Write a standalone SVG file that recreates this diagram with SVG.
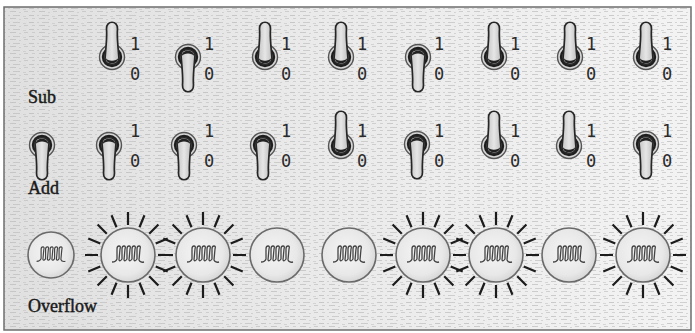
<svg xmlns="http://www.w3.org/2000/svg" xmlns:xlink="http://www.w3.org/1999/xlink" width="695" height="333" viewBox="0 0 695 333">
  <style>
    .bit { font-family: "DejaVu Sans Mono", "Liberation Mono", monospace; font-size: 17px; fill: #2a2a2a; }
    .row { font-family: "Liberation Serif", "DejaVu Serif", serif; font-size: 18px; fill: #1a1a1a; stroke: #1a1a1a; stroke-width: 0.45; }
    .glass { fill: url(#glassFill); stroke: #6a6a6a; stroke-width: 1.6; }
    .filament { fill: none; stroke: #444; stroke-width: 1.3; stroke-linejoin: round; }
    .ray { fill: none; stroke: #1c1c1c; stroke-width: 2.2; }
  </style>
  <defs>
    <linearGradient id="paper" x1="0" y1="0" x2="1" y2="0">
      <stop offset="0" stop-color="#e0e0e0"/>
      <stop offset="0.45" stop-color="#eaeaea"/>
      <stop offset="1" stop-color="#f3f3f3"/>
    </linearGradient>
    <pattern id="grain" width="29" height="7" patternUnits="userSpaceOnUse">
      <rect x="0" y="1" width="5" height="1" fill="#b0b0b0"/>
      <rect x="8" y="1" width="2" height="1" fill="#c0c0c0"/>
      <rect x="13" y="1" width="7" height="1" fill="#b8b8b8"/>
      <rect x="23" y="2" width="3" height="1" fill="#c4c4c4"/>
      <rect x="3" y="4" width="3" height="1" fill="#bebebe"/>
      <rect x="10" y="4" width="6" height="1" fill="#b4b4b4"/>
      <rect x="19" y="5" width="2" height="1" fill="#c2c2c2"/>
      <rect x="24" y="4" width="4" height="1" fill="#bababa"/>
    </pattern>
    <radialGradient id="glassFill" cx="0.45" cy="0.45" r="0.6">
      <stop offset="0" stop-color="#f5f5f5"/>
      <stop offset="0.7" stop-color="#e8e8e8"/>
      <stop offset="1" stop-color="#d2d2d2"/>
    </radialGradient>
    <linearGradient id="leverFill" x1="0" y1="0" x2="1" y2="0">
      <stop offset="0" stop-color="#c4c4c4"/>
      <stop offset="0.5" stop-color="#e6e6e6"/>
      <stop offset="1" stop-color="#bfbfbf"/>
    </linearGradient>

    <!-- toggle switch, lever pointing up; flipped vertically for the 0 position -->
    <g id="toggle">
      <circle r="12.5" fill="#d6d6d6" stroke="#555" stroke-width="1.4"/>
      <circle r="9" fill="#7a7a7a" stroke="#1e1e1e" stroke-width="2.4"/>
      <path d="M-7 2C-7 9 7 9 7 2L6-10C5.5-17 5-22 5.5-28C6-37-6-37-5.5-28C-5-22-5.5-17-6-10Z" fill="url(#leverFill)" stroke="#262626" stroke-width="1.7"/>
      <path d="M-6.2 1C-6.2 8 6.2 8 6.2 1C4.5 4.5-4.5 4.5-6.2 1Z" fill="#222"/>
    </g>
    <g id="toggleDown">
      <use xlink:href="#toggle" transform="scale(1,-1)"/>
    </g>

    <!-- coiled filament inside a bulb -->
    <path id="coil" class="filament" d="M-16 7Q-12 7-11 4L-11-6Q-11-9-9-9Q-7-9-8-6L-9 5Q-8 7-6 4L-6-6Q-6-9-4-9Q-2-9-3-6L-4 5Q-3 7-1 4L-1-6Q-1-9 1-9Q3-9 2-6L1 5Q2 7 4 4L4-6Q4-9 6-9Q8-9 7-6L6 5Q7 7 9 4L9-6Q9-9 11-9Q13-9 12-6L11 5Q12 8 16 7"/>

    <!-- glow rays around a lit bulb -->
    <path id="rays" class="ray" d="M30 0H43M-30 0H-43M0 30V43M0-30V-43M27.72 11.48L39.73 16.46M27.72-11.48L39.73-16.46M-27.72 11.48L-39.73 16.46M-27.72-11.48L-39.73-16.46M21.21 21.21L30.41 30.41M21.21-21.21L30.41-30.41M-21.21 21.21L-30.41 30.41M-21.21-21.21L-30.41-30.41M11.48 27.72L16.46 39.73M11.48-27.72L16.46-39.73M-11.48 27.72L-16.46 39.73M-11.48-27.72L-16.46-39.73"/>
  </defs>

  <!-- sheet -->
  <rect x="0" y="0" width="695" height="333" fill="#fff"/>
  <rect x="4" y="7" width="687" height="323" fill="url(#paper)"/>
  <rect x="4" y="7" width="687" height="323" fill="url(#grain)" opacity="0.6"/>
  <rect x="4" y="7" width="687" height="323" fill="none" stroke="#6e6e6e" stroke-width="1.5"/>

  <!-- row captions -->
  <text class="row" x="28" y="103">Sub</text>
  <text class="row" x="28" y="194">Add</text>
  <text class="row" x="28" y="312">Overflow</text>

  <!-- Sub register -->
  <g id="sub-1"><use xlink:href="#toggle" x="112" y="57"/><text class="bit" x="130" y="50">1</text><text class="bit" x="130" y="80">0</text></g>
  <g id="sub-2"><use xlink:href="#toggleDown" transform="translate(188,57)"/><text class="bit" x="204" y="50">1</text><text class="bit" x="204" y="80">0</text></g>
  <g id="sub-3"><use xlink:href="#toggle" x="265" y="57"/><text class="bit" x="281" y="50">1</text><text class="bit" x="281" y="80">0</text></g>
  <g id="sub-4"><use xlink:href="#toggle" x="341" y="57"/><text class="bit" x="357" y="50">1</text><text class="bit" x="357" y="80">0</text></g>
  <g id="sub-5"><use xlink:href="#toggleDown" transform="translate(418,57)"/><text class="bit" x="434" y="50">1</text><text class="bit" x="434" y="80">0</text></g>
  <g id="sub-6"><use xlink:href="#toggle" x="494" y="57"/><text class="bit" x="510" y="50">1</text><text class="bit" x="510" y="80">0</text></g>
  <g id="sub-7"><use xlink:href="#toggle" x="570" y="57"/><text class="bit" x="586" y="50">1</text><text class="bit" x="586" y="80">0</text></g>
  <g id="sub-8"><use xlink:href="#toggle" x="646" y="57"/><text class="bit" x="662" y="50">1</text><text class="bit" x="662" y="80">0</text></g>

  <!-- Add register -->
  <g id="add-carry"><use xlink:href="#toggleDown" transform="translate(42,145)"/></g>
  <g id="add-1"><use xlink:href="#toggleDown" transform="translate(109,145)"/><text class="bit" x="130" y="137">1</text><text class="bit" x="130" y="167">0</text></g>
  <g id="add-2"><use xlink:href="#toggleDown" transform="translate(184,145)"/><text class="bit" x="204" y="137">1</text><text class="bit" x="204" y="167">0</text></g>
  <g id="add-3"><use xlink:href="#toggleDown" transform="translate(263,145)"/><text class="bit" x="281" y="137">1</text><text class="bit" x="281" y="167">0</text></g>
  <g id="add-4"><use xlink:href="#toggle" x="341" y="146"/><text class="bit" x="357" y="137">1</text><text class="bit" x="357" y="167">0</text></g>
  <g id="add-5"><use xlink:href="#toggleDown" transform="translate(417,144)"/><text class="bit" x="434" y="137">1</text><text class="bit" x="434" y="167">0</text></g>
  <g id="add-6"><use xlink:href="#toggle" x="494" y="146"/><text class="bit" x="510" y="137">1</text><text class="bit" x="510" y="167">0</text></g>
  <g id="add-7"><use xlink:href="#toggle" x="569" y="146"/><text class="bit" x="586" y="137">1</text><text class="bit" x="586" y="167">0</text></g>
  <g id="add-8"><use xlink:href="#toggleDown" transform="translate(646,144)"/><text class="bit" x="662" y="137">1</text><text class="bit" x="662" y="167">0</text></g>

  <!-- Overflow lamps -->
  <g id="lamp-1" transform="translate(51,255)"><circle class="glass" r="23"/><use xlink:href="#coil" transform="scale(0.9)"/></g>
  <g id="lamp-2" transform="translate(128,255)"><use xlink:href="#rays"/><circle class="glass" r="27"/><use xlink:href="#coil"/></g>
  <g id="lamp-3" transform="translate(203,255)"><use xlink:href="#rays"/><circle class="glass" r="27"/><use xlink:href="#coil"/></g>
  <g id="lamp-4" transform="translate(277,255)"><circle class="glass" r="27"/><use xlink:href="#coil"/></g>
  <g id="lamp-5" transform="translate(349,255)"><circle class="glass" r="27"/><use xlink:href="#coil"/></g>
  <g id="lamp-6" transform="translate(423,255)"><use xlink:href="#rays"/><circle class="glass" r="27"/><use xlink:href="#coil"/></g>
  <g id="lamp-7" transform="translate(496,255)"><use xlink:href="#rays"/><circle class="glass" r="27"/><use xlink:href="#coil"/></g>
  <g id="lamp-8" transform="translate(569,255)"><circle class="glass" r="27"/><use xlink:href="#coil"/></g>
  <g id="lamp-9" transform="translate(643,255)"><use xlink:href="#rays"/><circle class="glass" r="27"/><use xlink:href="#coil"/></g>
</svg>
